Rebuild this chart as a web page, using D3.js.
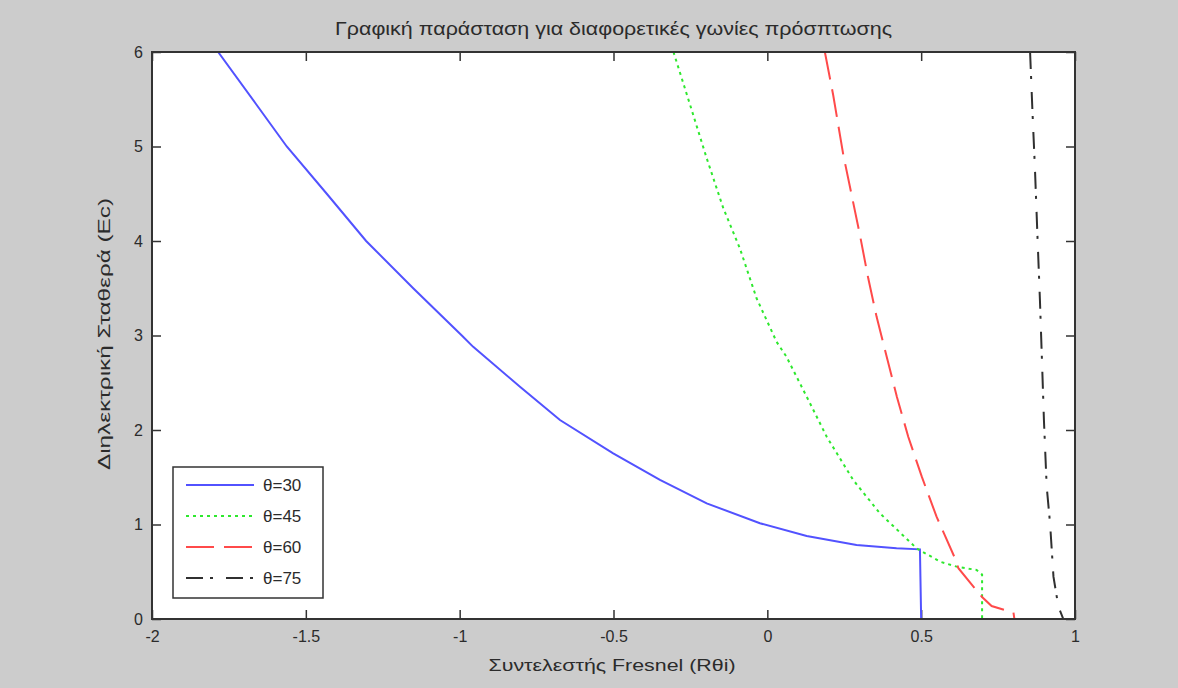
<!DOCTYPE html>
<html>
<head>
<meta charset="utf-8">
<script src="https://cdn.jsdelivr.net/npm/d3@7"></script>
<style>
  body { margin: 0; background: #cccccc; }
  svg text { font-family: "Liberation Sans Narrow", "Liberation Sans", Arial, sans-serif; fill: #2b2b2b; }
</style>
</head>
<body>
<svg id="chart" width="1178" height="688"></svg>
<script>
// values: Fresnel coefficient (x) vs dielectric constant (y)
const names = ['θ=30', 'θ=45', 'θ=60', 'θ=75'];

const r30 = [-1.785, -1.662, -1.562, -1.432, -1.304, -1.151, -0.993, -0.956, -0.804, -0.674, -0.501, -0.349, -0.197, -0.024, 0.128, 0.290, 0.420, 0.496, 0.500];
const e30 = [6, 5.45, 5, 4.5, 4, 3.5, 3, 2.88, 2.458, 2.106, 1.753, 1.471, 1.224, 1.013, 0.878, 0.783, 0.748, 0.737, 0];

const r45 = [-0.305, -0.251, -0.197, -0.143, -0.089, -0.035, 0.030, 0.062, 0.128, 0.193, 0.279, 0.366, 0.485, 0.561, 0.615, 0.680, 0.698, 0.698];
const e45 = [6, 5.44, 4.875, 4.346, 3.92, 3.394, 2.934, 2.776, 2.352, 1.929, 1.471, 1.118, 0.748, 0.607, 0.554, 0.519, 0.470, 0];

const r60 = [0.187, 0.214, 0.247, 0.274, 0.301, 0.328, 0.355, 0.388, 0.421, 0.458, 0.502, 0.550, 0.610, 0.621, 0.697, 0.729, 0.800, 0.803];
const e60 = [6, 5.545, 4.91, 4.487, 4.063, 3.605, 3.20, 2.776, 2.352, 1.929, 1.506, 1.083, 0.642, 0.537, 0.236, 0.137, 0.067, 0];

const r75 = [0.854, 0.862, 0.870, 0.878, 0.886, 0.893, 0.899, 0.908, 0.919, 0.930, 0.946, 0.962];
const e75 = [6, 5.35, 4.75, 4.05, 3.376, 2.7, 2.106, 1.40, 1.01, 0.448, 0.13, 0];

const xTicks = [-2, -1.5, -1, -0.5, 0, 0.5, 1];
const yTicks = [0, 1, 2, 3, 4, 5, 6];

const series = [
  { name: names[0], r: r30, e: e30, color: '#5252ff', dash: null },
  { name: names[1], r: r45, e: e45, color: '#2ee82e', dash: '3,4' },
  { name: names[2], r: r60, e: e60, color: '#ff4a4a', dash: '28,10' },
  { name: names[3], r: r75, e: e75, color: '#303030', dash: '17,7,3,13' },
];

const svg = d3.select('#chart');
const box = { left: 152, right: 1075, top: 52, bottom: 619 };

const x = d3.scaleLinear().domain([-2, 1]).range([box.left, box.right]);
const y = d3.scaleLinear().domain([0, 6]).range([box.bottom, box.top]);

svg.append('rect')
  .attr('width', 1178).attr('height', 688)
  .attr('fill', '#cccccc');

// plot area
svg.append('rect')
  .attr('x', box.left).attr('y', box.top)
  .attr('width', box.right - box.left).attr('height', box.bottom - box.top)
  .attr('fill', '#ffffff');

const fmt = d => String(d);

// axes with inward ticks on all four sides
svg.append('g')
  .attr('transform', `translate(0,${box.bottom})`)
  .call(d3.axisBottom(x).tickValues(xTicks).tickFormat(fmt).tickSizeInner(-9).tickSizeOuter(0).tickPadding(12));
svg.append('g')
  .attr('transform', `translate(0,${box.top})`)
  .call(d3.axisTop(x).tickValues(xTicks).tickFormat('').tickSizeInner(-9).tickSizeOuter(0));
svg.append('g')
  .attr('transform', `translate(${box.left},0)`)
  .call(d3.axisLeft(y).tickValues(yTicks).tickFormat(fmt).tickSizeInner(-9).tickSizeOuter(0).tickPadding(9));
svg.append('g')
  .attr('transform', `translate(${box.right},0)`)
  .call(d3.axisRight(y).tickValues(yTicks).tickFormat('').tickSizeInner(-9).tickSizeOuter(0));

svg.selectAll('.domain').remove();
svg.selectAll('.tick line').attr('stroke', '#333').attr('stroke-width', 1.5);
svg.selectAll('.tick text')
  .attr('font-size', 16)
  .attr('fill', '#2b2b2b')
  .style('font-family', '"Liberation Sans Narrow", "Liberation Sans", Arial, sans-serif');

// clip lines to the axes box
svg.append('clipPath').attr('id', 'clip')
  .append('rect')
  .attr('x', box.left).attr('y', box.top)
  .attr('width', box.right - box.left).attr('height', box.bottom - box.top);

const line = d3.line().x(d => x(d[0])).y(d => y(d[1]));

svg.append('g')
  .attr('clip-path', 'url(#clip)')
  .selectAll('path')
  .data(series)
  .enter()
  .append('path')
  .attr('d', s => line(s.r.map((v, i) => [v, s.e[i]])))
  .attr('fill', 'none')
  .attr('stroke', s => s.color)
  .attr('stroke-width', 2)
  .attr('stroke-dasharray', s => s.dash);

// frame
svg.append('rect')
  .attr('x', box.left).attr('y', box.top)
  .attr('width', box.right - box.left).attr('height', box.bottom - box.top)
  .attr('fill', 'none')
  .attr('stroke', '#333')
  .attr('stroke-width', 2);

// titles
svg.append('text')
  .attr('x', (box.left + box.right) / 2).attr('y', 35)
  .attr('text-anchor', 'middle')
  .attr('font-size', 18)
  .attr('textLength', 557).attr('lengthAdjust', 'spacingAndGlyphs')
  .text('Γραφική παράσταση για διαφορετικές γωνίες πρόσπτωσης');

svg.append('text')
  .attr('x', 612).attr('y', 671)
  .attr('text-anchor', 'middle')
  .attr('font-size', 17)
  .attr('textLength', 247).attr('lengthAdjust', 'spacingAndGlyphs')
  .text('Συντελεστής Fresnel (Rθi)');

svg.append('text')
  .attr('transform', 'translate(110,334) rotate(-90)')
  .attr('text-anchor', 'middle')
  .attr('font-size', 17)
  .attr('textLength', 272).attr('lengthAdjust', 'spacingAndGlyphs')
  .text('Διηλεκτρική Σταθερά (Εc)');

// legend
const legend = svg.append('g').attr('transform', 'translate(173,467)');
legend.append('rect')
  .attr('width', 150).attr('height', 131)
  .attr('fill', '#ffffff')
  .attr('stroke', '#333').attr('stroke-width', 1.5);

const items = legend.selectAll('.item')
  .data(series)
  .enter()
  .append('g')
  .attr('class', 'item')
  .attr('transform', (d, i) => `translate(0,${18 + i * 31})`);

items.append('line')
  .attr('x1', 13).attr('x2', 81)
  .attr('stroke', d => d.color)
  .attr('stroke-width', 2)
  .attr('stroke-dasharray', d => d.dash);

items.append('text')
  .attr('x', 90).attr('y', 6)
  .attr('font-size', 17)
  .text(d => d.name);
</script>
</body>
</html>
